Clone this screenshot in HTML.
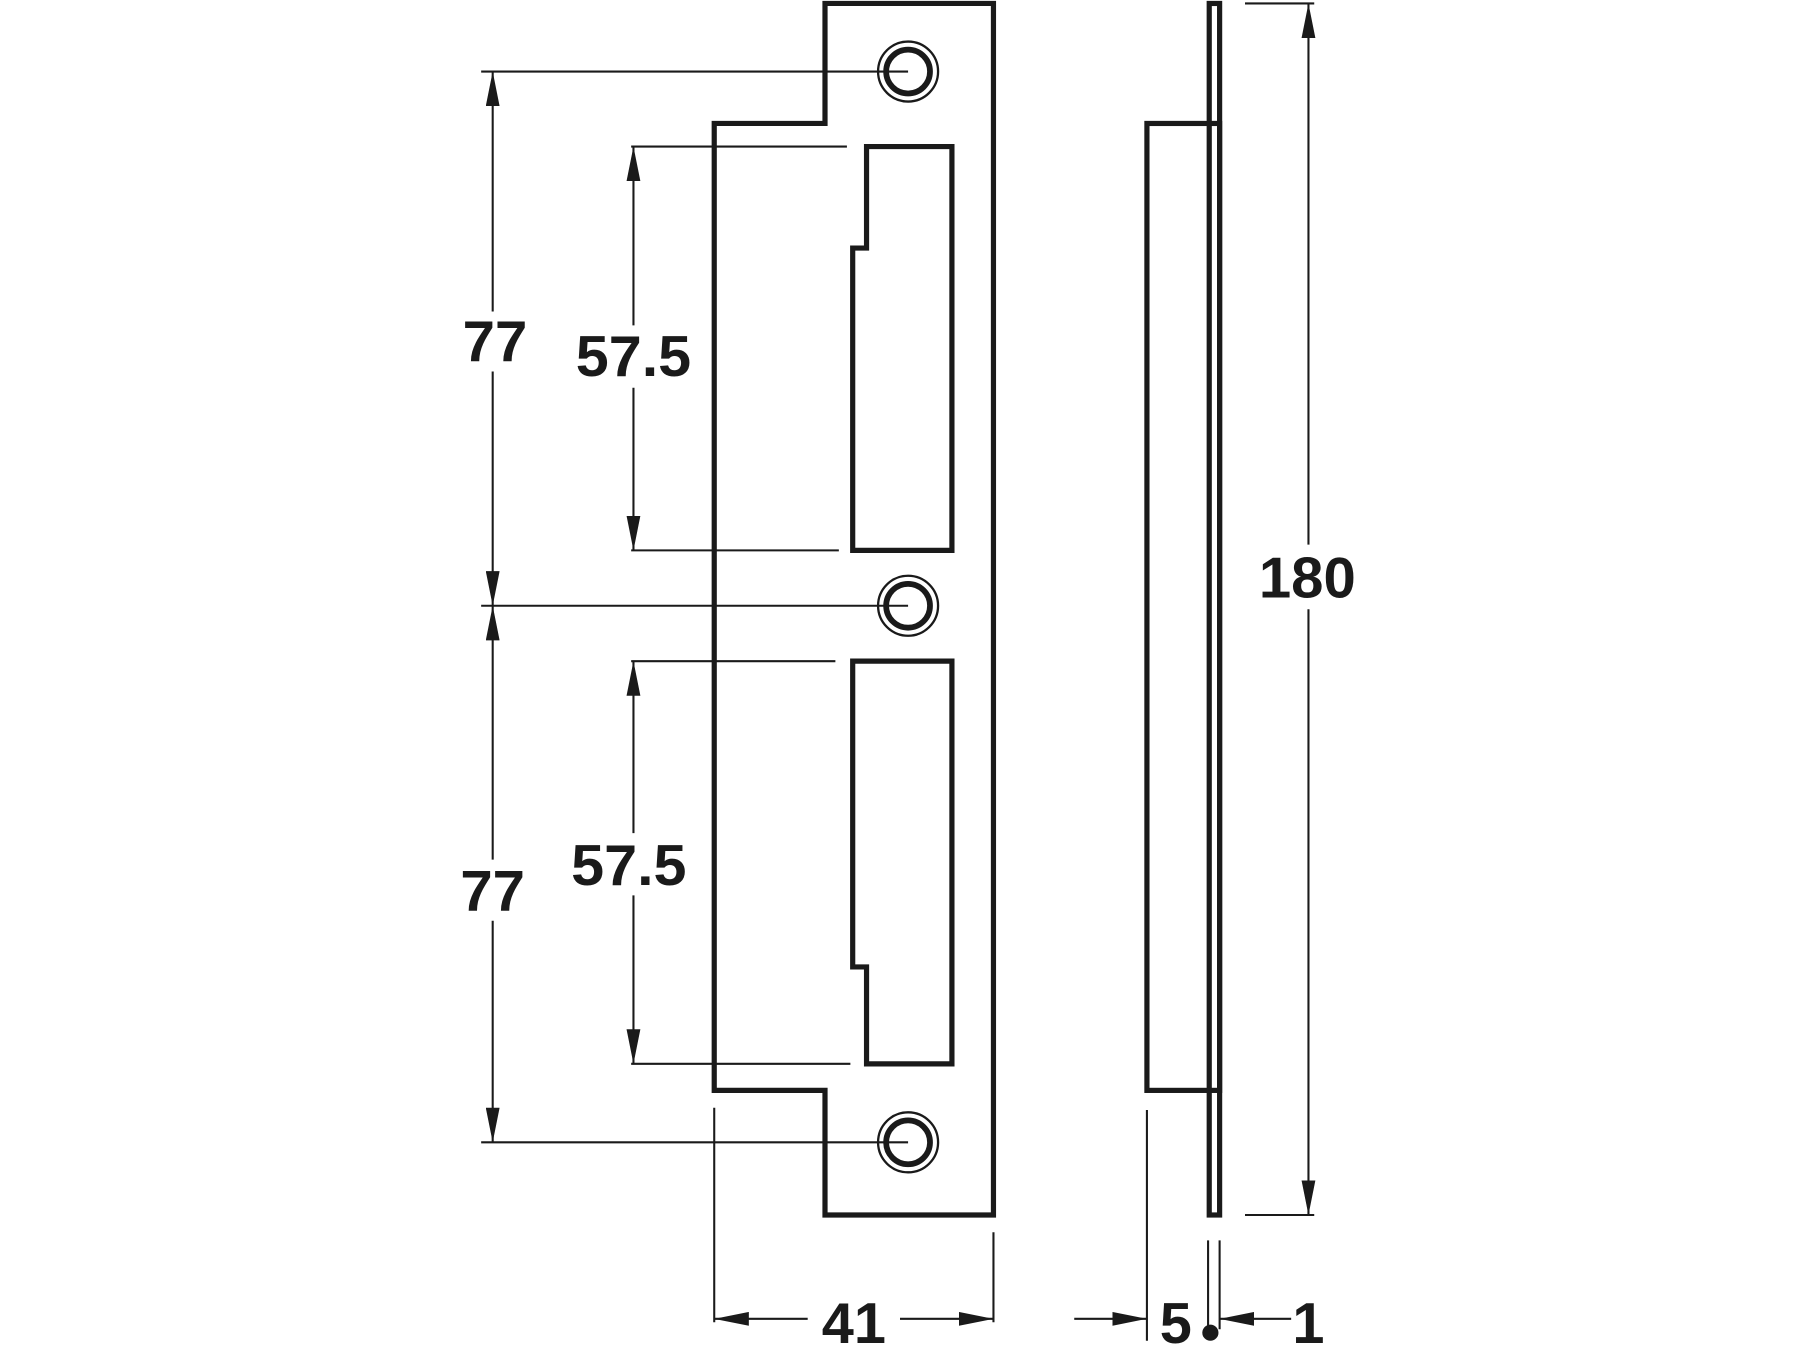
<!DOCTYPE html>
<html><head><style>html,body{margin:0;padding:0;background:#fff}svg{display:block}</style></head>
<body>
<svg width="1800" height="1350" viewBox="0 0 1560 1170" xmlns="http://www.w3.org/2000/svg">
<defs>
<marker id="a" viewBox="0 0 30 12" refX="30" refY="6" markerWidth="30" markerHeight="12" markerUnits="userSpaceOnUse" orient="auto"><path d="M0,0 L30,6 L0,12 z" fill="#1a1a1a"/></marker>
</defs>
<g fill="none" stroke="#1a1a1a" stroke-width="4.5" stroke-linejoin="miter">
<path d="M715,3 H861 V1053 H715 V945 H619 V107 H715 Z"/>
<path d="M751,127 H825 V477 H739 V215 H751 Z"/>
<path d="M739,573 H825 V922 H751 V838 H739 Z"/>
<rect x="994" y="107" width="63" height="838"/>
<rect x="1048" y="3" width="9" height="1050"/>
</g>
<g fill="none" stroke="#1a1a1a">
<circle cx="787" cy="62" r="26" stroke-width="2"/><circle cx="787" cy="62" r="19" stroke-width="5"/>
<circle cx="787" cy="525" r="26" stroke-width="2"/><circle cx="787" cy="525" r="19" stroke-width="5"/>
<circle cx="787" cy="990" r="26" stroke-width="2"/><circle cx="787" cy="990" r="19" stroke-width="5"/>
</g>
<g stroke="#1a1a1a" stroke-width="1.8" fill="none">
<line x1="417" y1="62" x2="787" y2="62"/>
<line x1="417" y1="525" x2="787" y2="525"/>
<line x1="417" y1="990" x2="787" y2="990"/>
<line x1="427" y1="270" x2="427" y2="62" marker-end="url(#a)"/>
<line x1="427" y1="322" x2="427" y2="525" marker-end="url(#a)"/>
<line x1="427" y1="745" x2="427" y2="525" marker-end="url(#a)"/>
<line x1="427" y1="798" x2="427" y2="990" marker-end="url(#a)"/>
<line x1="547" y1="127" x2="734" y2="127"/>
<line x1="547" y1="477" x2="727" y2="477"/>
<line x1="549" y1="282" x2="549" y2="127" marker-end="url(#a)"/>
<line x1="549" y1="336" x2="549" y2="477" marker-end="url(#a)"/>
<line x1="547" y1="573" x2="724" y2="573"/>
<line x1="547" y1="922" x2="737" y2="922"/>
<line x1="549" y1="722" x2="549" y2="573" marker-end="url(#a)"/>
<line x1="549" y1="776" x2="549" y2="922" marker-end="url(#a)"/>
<line x1="1079" y1="3" x2="1139" y2="3"/>
<line x1="1079" y1="1053" x2="1139" y2="1053"/>
<line x1="1134" y1="472" x2="1134" y2="3" marker-end="url(#a)"/>
<line x1="1134" y1="528" x2="1134" y2="1053" marker-end="url(#a)"/>
<line x1="619" y1="960" x2="619" y2="1146"/>
<line x1="861" y1="1068" x2="861" y2="1146"/>
<line x1="700" y1="1143" x2="619" y2="1143" marker-end="url(#a)"/>
<line x1="780" y1="1143" x2="861" y2="1143" marker-end="url(#a)"/>
<line x1="994" y1="962" x2="994" y2="1162"/>
<line x1="931" y1="1143" x2="994" y2="1143" marker-end="url(#a)"/>
<line x1="1047" y1="1075" x2="1047" y2="1152"/>
<line x1="1057" y1="1075" x2="1057" y2="1152"/>
<line x1="1119" y1="1143" x2="1057" y2="1143" marker-end="url(#a)"/>
</g>
<circle cx="1049" cy="1155" r="7" fill="#1a1a1a"/>
<g font-family="Liberation Sans, sans-serif" font-weight="bold" font-size="50" fill="#1a1a1a" text-anchor="middle">
<text x="429" y="313" textLength="56" lengthAdjust="spacingAndGlyphs">77</text>
<text x="427" y="789" textLength="56" lengthAdjust="spacingAndGlyphs">77</text>
<text x="549" y="326" textLength="100" lengthAdjust="spacingAndGlyphs">57.5</text>
<text x="545" y="767" textLength="100" lengthAdjust="spacingAndGlyphs">57.5</text>
<text x="1133" y="518" textLength="84" lengthAdjust="spacingAndGlyphs">180</text>
<text x="740" y="1164">41</text>
<text x="1019" y="1164">5</text>
<text x="1134" y="1164">1</text>
</g>
</svg>
</body></html>
